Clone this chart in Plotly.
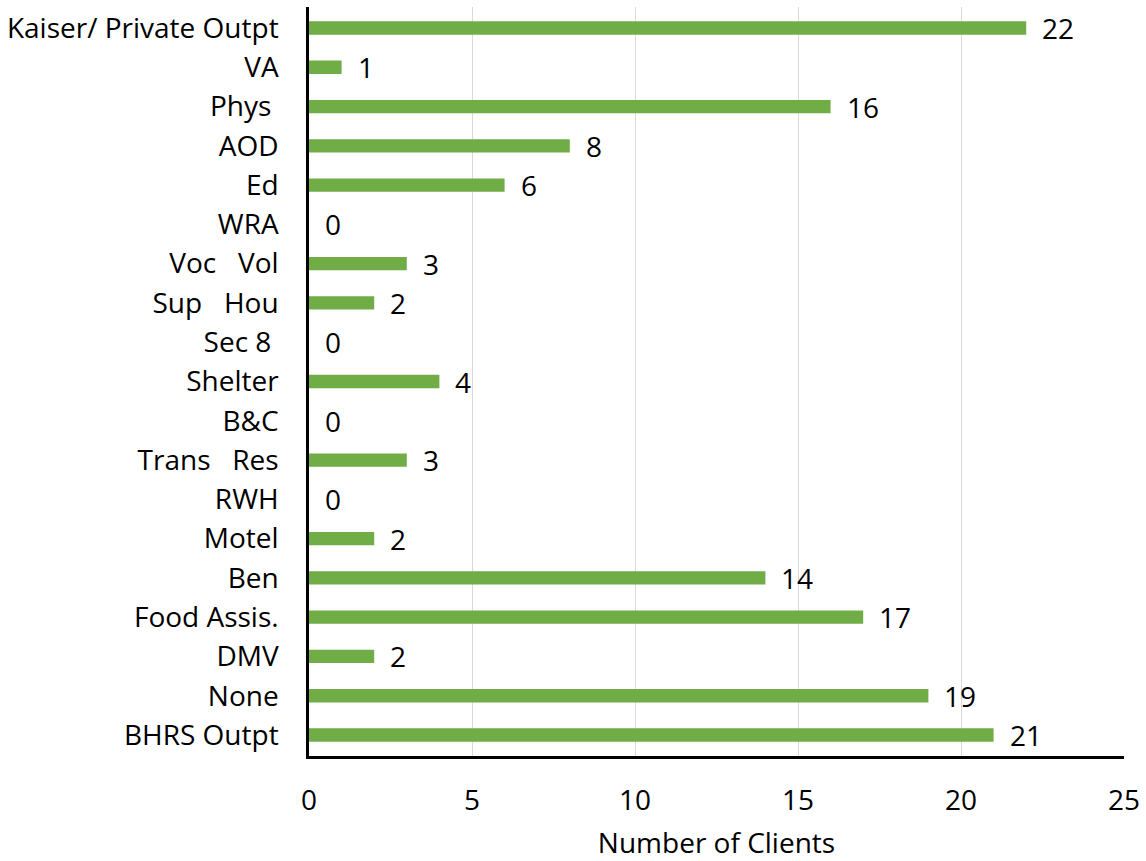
import plotly.graph_objects as go

NB = "\u00a0"
categories = [
    "BHRS Outpt", "None", "DMV", "Food Assis.", "Ben", "Motel", "RWH",
    "Trans" + NB * 3 + "Res", "B&C", "Shelter", "Sec 8" + NB, "Sup" + NB * 3 + "Hou",
    "Voc" + NB * 3 + "Vol", "WRA", "Ed", "AOD", "Phys" + NB, "VA", "Kaiser/ Private Outpt",
]
values = [21, 19, 2, 17, 14, 2, 0, 3, 0, 4, 0, 2, 3, 0, 6, 8, 16, 1, 22]
x_ticks = [0, 5, 10, 15, 20, 25]

FONT = "Open Sans"
FS = 28

fig = go.Figure()
fig.add_trace(go.Bar(
    y=categories, x=values, orientation="h",
    marker=dict(color="#70AD47", line=dict(width=0)),
    width=0.34, hoverinfo="skip",
))

for c, v in zip(categories, values):
    fig.add_annotation(x=v, y=c, text=str(v), showarrow=False,
                       xanchor="left", yanchor="middle", xshift=14,
                       font=dict(family=FONT, size=FS, color="black"))

fig.update_layout(
    width=1146, height=861,
    margin=dict(l=309, r=22, t=7, b=105, autoexpand=False),
    paper_bgcolor="white", plot_bgcolor="white",
    showlegend=False,
    font=dict(family=FONT, size=FS, color="black"),
)
fig.update_xaxes(
    range=[0, 25], tickvals=x_ticks, showgrid=True, gridcolor="#D9D9D9", gridwidth=1.3,
    showline=True, linecolor="black", linewidth=2.5, zeroline=False, automargin=False,
    ticks="", ticklabelstandoff=18,
    title=dict(text="Number of Clients", standoff=32, font=dict(family=FONT, size=FS)),
    tickfont=dict(family=FONT, size=FS),
)
fig.update_yaxes(
    categoryorder="array", categoryarray=categories, automargin=False,
    showline=True, linecolor="black", linewidth=2.5, showgrid=False, zeroline=False,
    ticks="", ticklabelstandoff=22, tickfont=dict(family=FONT, size=FS),
)

fig.write_html(
    "out.html",
    config={"displayModeBar": False},
    post_script="document.body.style.margin='0';document.body.style.overflow='hidden';",
)
